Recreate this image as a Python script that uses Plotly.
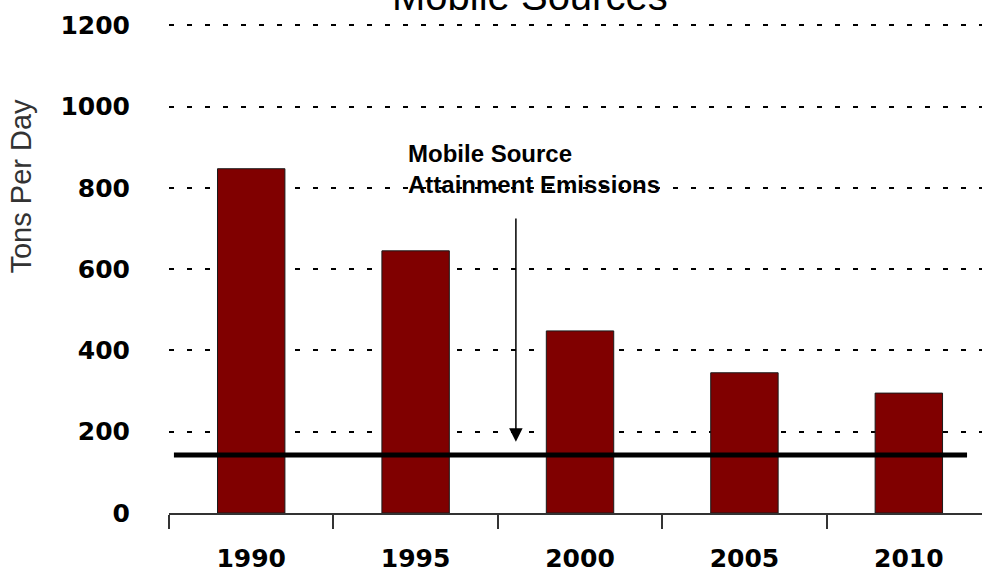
import plotly.graph_objects as go

years = ["1990", "1995", "2000", "2005", "2010"]
tons_per_day = [847, 645, 448, 345, 295]
attainment_level = 143
arrow_tip = 175
arrow_tail = 728
y_ticks = [0, 200, 400, 600, 800, 1000, 1200]

fig = go.Figure()
fig.add_trace(go.Bar(
    x=years, y=tons_per_day, width=0.41,
    marker=dict(color="#800000", line=dict(color="#1a1a1a", width=1)),
    showlegend=False, hoverinfo="skip",
))

fig.add_shape(type="line", xref="x", yref="y", x0=-0.47, x1=4.354,
              y0=attainment_level, y1=attainment_level,
              line=dict(color="black", width=5))

fig.add_annotation(xref="x", yref="y", x=1.61, y=arrow_tip, ax=1.61, ay=arrow_tail,
                   axref="x", ayref="y", text="", showarrow=True,
                   arrowhead=2, arrowsize=1.8, arrowwidth=1.5, arrowcolor="black")

fig.add_annotation(xref="x", yref="y", x=0.939, y=922, xanchor="left", yanchor="top",
                   text="Mobile Source<br>Attainment Emissions", showarrow=False, align="left",
                   font=dict(family="Liberation Sans", size=24, weight="bold", color="black"))

fig.add_annotation(xref="paper", yref="paper", x=0.444, y=1.052, xanchor="center", yanchor="middle",
                   text="Mobile Sources", showarrow=False,
                   font=dict(family="Liberation Sans", size=40, color="black"))

fig.add_annotation(xref="paper", yref="paper", x=-0.182, y=0.665, xanchor="center", yanchor="middle",
                   text="Tons Per Day", showarrow=False, textangle=-90,
                   font=dict(family="Liberation Sans", size=29, color="#333333"))

fig.update_layout(
    width=982, height=580,
    margin=dict(l=169, r=0, t=22, b=67),
    paper_bgcolor="white", plot_bgcolor="white",
    bargap=0.59,
    xaxis=dict(
        type="category", range=[-0.5, 4.445],
        showline=True, linecolor="#333333", linewidth=1.5,
        ticks="outside", tickson="boundaries", ticklen=14, tickwidth=1.5, tickcolor="#333333",
        showgrid=False,
        tickfont=dict(family="DejaVu Sans", size=25, weight="bold", color="black"),
        ticklabelstandoff=22,
    ),
    yaxis=dict(
        range=[0, 1208], tickvals=y_ticks,
        showline=False, zeroline=False, ticks="",
        showgrid=True, gridcolor="black", gridwidth=2, griddash="5px,13px",
        tickfont=dict(family="DejaVu Sans", size=25, weight="bold", color="black"),
        ticklabelstandoff=38,
    ),
)

fig.write_html("out.html")
